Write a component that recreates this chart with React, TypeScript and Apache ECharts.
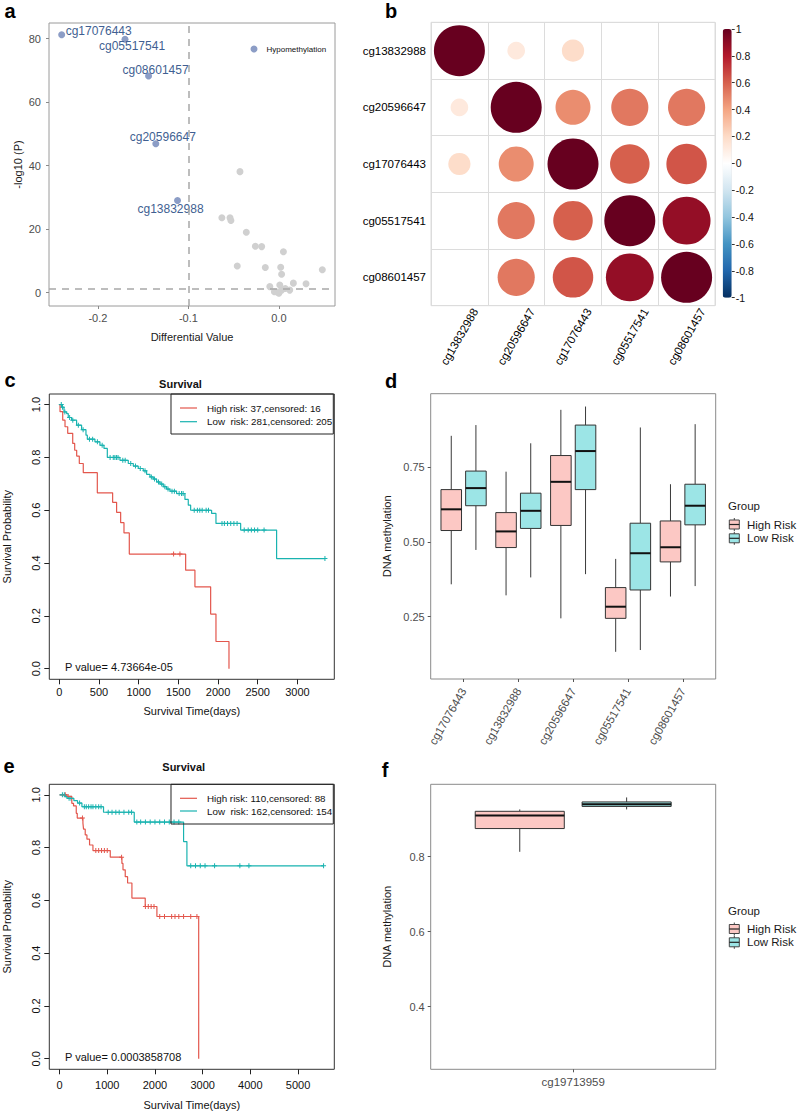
import React, { useEffect, useRef } from "react";
import * as echarts from "echarts";

const FONT = "'Liberation Sans', Arial, Helvetica, sans-serif";

// ---------------- Panel a : volcano ----------------
const volcanoGrayX = [-0.043, -0.063, -0.054, -0.053, -0.036, -0.026, -0.019, 0.005, -0.046, -0.015, 0.002, 0.003, 0.048, 0.016, 0.030, -0.010, 0.001, 0.012, -0.005, 0.0, -0.002, 0.003, 0.007];
const volcanoGrayY = [38.1, 23.6, 23.6, 22.7, 19.0, 14.6, 14.5, 12.9, 8.4, 7.9, 8.0, 5.8, 7.2, 3.0, 2.8, 1.9, 2.4, 0.8, 0.3, -0.2, 0.2, 0.8, 1.3];
const hypoNames = ["cg17076443", "cg05517541", "cg08601457", "cg20596647", "cg13832988"];
const hypoX = [-0.240, -0.170, -0.144, -0.136, -0.112];
const hypoY = [81.2, 79.8, 68.2, 46.9, 29.0];
const volcanoXTicks = [-0.2, -0.1, 0.0];
const volcanoYTicks = [0, 20, 40, 60, 80];
const diffCutoff = -0.1;
const pCutoff = 1.3;

// ---------------- Panel b : correlation ----------------
const corrGenes = ["cg13832988", "cg20596647", "cg17076443", "cg05517541", "cg08601457"];
const corrMatrix = [
  [1, 0.12, 0.19, 0, 0],
  [0.12, 1, 0.47, 0.53, 0.53],
  [0.19, 0.47, 1, 0.6, 0.63],
  [0, 0.53, 0.6, 1, 0.88],
  [0, 0.53, 0.63, 0.88, 1],
];

// ---------------- Panel c : survival (training) ----------------
const cHighTime = [0, 9, 43, 72, 106, 169, 194, 219, 252, 302, 479, 672, 722, 773, 815, 882, 1592, 1709, 1907, 1974, 2138];
const cHighSurv = [1, 0.973, 0.941, 0.916, 0.891, 0.853, 0.827, 0.805, 0.777, 0.742, 0.666, 0.63, 0.592, 0.553, 0.514, 0.434, 0.373, 0.31, 0.207, 0.103, 0];
const cLowTime = [0, 30, 59, 92, 113, 155, 218, 281, 336, 353, 449, 512, 563, 605, 764, 869, 932, 995, 1058, 1100, 1142, 1184, 1226, 1268, 1310, 1352, 1394, 1478, 1583, 1625, 1655, 1919, 1974, 2285, 2738, 3347];
const cLowSurv = [1, 0.99, 0.972, 0.966, 0.951, 0.941, 0.922, 0.905, 0.884, 0.869, 0.859, 0.846, 0.834, 0.8, 0.789, 0.777, 0.767, 0.758, 0.749, 0.736, 0.726, 0.718, 0.707, 0.699, 0.689, 0.68, 0.672, 0.663, 0.641, 0.619, 0.6, 0.588, 0.55, 0.525, 0.417, 0.417];
const cHighCensor = [1440, 1520];
const cLowCensor = [25, 40, 70, 130, 170, 240, 300, 380, 420, 480, 540, 640, 680, 700, 720, 740, 800, 830, 900, 960, 1020, 1080, 1160, 1200, 1250, 1290, 1330, 1370, 1420, 1450, 1510, 1540, 1560, 1700, 1740, 1770, 1800, 1850, 1880, 2050, 2080, 2120, 2160, 2200, 2240, 2330, 2380, 2420, 2460, 2500, 2580, 3347];
const cTimeTicks = [0, 500, 1000, 1500, 2000, 2500, 3000];
const survTicks = [0, 0.2, 0.4, 0.6, 0.8, 1.0];
const cLegend = ["High risk: 37,censored: 16", "Low  risk: 281,censored: 205"];
const cPValue = "P value= 4.73664e-05";

// ---------------- Panel d : methylation boxplots ----------------
const dGenes = ["cg17076443", "cg13832988", "cg20596647", "cg05517541", "cg08601457"];
// [lower whisker, Q1, median, Q3, upper whisker]
const dHighBox = [
  [0.358, 0.538, 0.609, 0.675, 0.855],
  [0.321, 0.481, 0.535, 0.598, 0.735],
  [0.244, 0.555, 0.701, 0.789, 0.942],
  [0.132, 0.244, 0.283, 0.347, 0.443],
  [0.317, 0.433, 0.482, 0.57, 0.693],
];
const dLowBox = [
  [0.473, 0.621, 0.68, 0.737, 0.891],
  [0.381, 0.545, 0.604, 0.663, 0.83],
  [0.392, 0.675, 0.804, 0.891, 0.953],
  [0.138, 0.339, 0.462, 0.5625, 0.883],
  [0.352, 0.557, 0.621, 0.693, 0.894],
];
const dYTicks = [0.25, 0.5, 0.75];

// ---------------- Panel e : survival (validation) ----------------
const eHighTime = [0, 153, 257, 293, 350, 371, 490, 503, 538, 574, 629, 700, 1063, 1307, 1330, 1377, 1426, 1517, 1796, 2041, 2917];
const eHighSurv = [1, 0.994, 0.968, 0.958, 0.93, 0.912, 0.893, 0.87, 0.848, 0.832, 0.81, 0.789, 0.764, 0.74, 0.716, 0.69, 0.666, 0.609, 0.577, 0.539, 0];
const eLowTime = [0, 118, 155, 300, 377, 469, 922, 1566, 2600, 2670, 5535];
const eLowSurv = [1, 0.993, 0.987, 0.978, 0.969, 0.955, 0.934, 0.897, 0.823, 0.731, 0.731];
const eHighCensor = [120, 180, 480, 760, 820, 880, 940, 1000, 1300, 1800, 1860, 1920, 1980, 2100, 2200, 2350, 2420, 2500, 2600, 2750, 2880];
const eLowCensor = [60, 100, 200, 240, 420, 520, 560, 610, 660, 700, 760, 820, 870, 1020, 1100, 1180, 1250, 1350, 1450, 1510, 1620, 1700, 1800, 1900, 2000, 2100, 2200, 2300, 2400, 2500, 2750, 2850, 2950, 3050, 3250, 3780, 3970, 5535];
const eTimeTicks = [0, 1000, 2000, 3000, 4000, 5000];
const eLegend = ["High risk: 110,censored: 88", "Low  risk: 162,censored: 154"];
const ePValue = "P value= 0.0003858708";

// ---------------- Panel f ----------------
const fGenes = ["cg19713959"];
const fHighBox = [[0.813, 0.875, 0.91, 0.921, 0.926]];
const fLowBox = [[0.926, 0.934, 0.94, 0.946, 0.958]];
const fYTicks = [0.4, 0.6, 0.8];

const groupNames = ["High Risk", "Low Risk"];

// ---------------- styles ----------------
const RED = "#E3574D";
const TEAL = "#19B3B0";
const PINK = "#FCC8C4";
const CYAN = "#9CE5E6";
const RDBU = ["#053061", "#2166AC", "#4393C3", "#92C5DE", "#D1E5F0", "#FFFFFF", "#FDDBC7", "#F4A582", "#D6604D", "#B2182B", "#67001F"];
const PLUS = "path://M4,0H6V10H4Z M0,4H10V6H0Z";
const DODGE = 0.225;
const HALF = 0.1875;

function stepAt(times: number[], surv: number[], t: number) {
  let v = surv[0];
  for (let i = 0; i < times.length; i++) {
    if (times[i] <= t) v = surv[i];
  }
  return v;
}

function boxData(high: number[][], low: number[][]) {
  const out: number[][] = [];
  high.forEach((b, i) => out.push([i + 1, b[0], b[1], b[2], b[3], b[4], 0]));
  low.forEach((b, i) => out.push([i + 1, b[0], b[1], b[2], b[3], b[4], 1]));
  return out;
}

function renderBox(params: any, api: any) {
  const x = api.value(0);
  const grp = api.value(6);
  const xc = x + (grp === 0 ? -DODGE : DODGE);
  const pl = api.coord([xc - HALF, api.value(4)]);
  const pr = api.coord([xc + HALF, api.value(2)]);
  const pm = api.coord([xc, api.value(3)]);
  const yLow = api.coord([xc, api.value(1)])[1];
  const yHigh = api.coord([xc, api.value(5)])[1];
  const fill = grp === 0 ? PINK : CYAN;
  return {
    type: "group",
    children: [
      { type: "line", shape: { x1: pm[0], y1: yHigh, x2: pm[0], y2: pl[1] }, style: { stroke: "#3a3a3a", lineWidth: 1 } },
      { type: "line", shape: { x1: pm[0], y1: pr[1], x2: pm[0], y2: yLow }, style: { stroke: "#3a3a3a", lineWidth: 1 } },
      { type: "rect", shape: { x: pl[0], y: pl[1], width: pr[0] - pl[0], height: pr[1] - pl[1] }, style: { fill, stroke: "#333", lineWidth: 1 } },
      { type: "line", shape: { x1: pl[0], y1: pm[1], x2: pr[0], y2: pm[1] }, style: { stroke: "#111", lineWidth: 2 } },
    ],
  };
}

function txt(text: string, x: number, y: number, size: number, opts: any = {}) {
  return {
    type: "text",
    x,
    y,
    z: 100,
    style: {
      text,
      fill: opts.fill || "#111",
      fontSize: size,
      fontFamily: FONT,
      fontWeight: opts.bold ? "bold" : "normal",
      align: opts.align || "left",
      verticalAlign: "middle",
    },
  };
}

function kmLegend(x0: number, y0: number, x1: number, y1: number, rows: number[], labels: string[]) {
  return [
    { type: "rect", z: 100, shape: { x: x0, y: y0, width: x1 - x0, height: y1 - y0 }, style: { fill: "rgba(0,0,0,0)", stroke: "#222", lineWidth: 1 } },
    { type: "line", z: 100, shape: { x1: 180, y1: rows[0], x2: 197, y2: rows[0] }, style: { stroke: RED, lineWidth: 1.2 } },
    { type: "line", z: 100, shape: { x1: 180, y1: rows[1], x2: 197, y2: rows[1] }, style: { stroke: TEAL, lineWidth: 1.2 } },
    txt(labels[0], 207, rows[0], 9.8),
    txt(labels[1], 207, rows[1], 9.8),
  ];
}

function boxKey(cy: number, fill: string) {
  const cx = 734.3;
  return [
    { type: "line", z: 100, shape: { x1: cx, y1: cy - 6.5, x2: cx, y2: cy + 6.5 }, style: { stroke: "#444", lineWidth: 1 } },
    { type: "rect", z: 101, shape: { x: cx - 5, y: cy - 4.5, width: 10, height: 9 }, style: { fill, stroke: "#444", lineWidth: 1 } },
    { type: "line", z: 102, shape: { x1: cx - 5, y1: cy, x2: cx + 5, y2: cy }, style: { stroke: "#222", lineWidth: 1.2 } },
  ];
}

function groupLegend(yTitle: number, yHigh: number, yLow: number) {
  return [
    txt("Group", 728, yTitle, 11.5, { fill: "#1a1a1a" }),
    ...boxKey(yHigh, PINK),
    ...boxKey(yLow, CYAN),
    txt(groupNames[0], 747, yHigh, 11.5, { fill: "#1a1a1a" }),
    txt(groupNames[1], 747, yLow, 11.5, { fill: "#1a1a1a" }),
  ];
}

const noLine = { show: false, onZero: false };

function kmXAxis(grid: number, min: number, max: number, ticks: number[], margin: number, nameGap: number) {
  return {
    gridIndex: grid, type: "value", min, max,
    splitLine: { show: false }, axisLine: noLine,
    axisTick: { show: true, length: 5, lineStyle: { color: "#222" }, customValues: ticks },
    axisLabel: { customValues: ticks, color: "#111", fontSize: 11, margin, formatter: (v: number) => String(v) },
    name: "Survival Time(days)", nameLocation: "middle", nameGap,
    nameTextStyle: { color: "#111", fontSize: 11 },
  };
}

function kmYAxis(grid: number) {
  return {
    gridIndex: grid, type: "value", min: -0.04, max: 1.04,
    splitLine: { show: false }, axisLine: noLine,
    axisTick: { show: true, length: 5, lineStyle: { color: "#222" }, customValues: survTicks },
    axisLabel: { customValues: survTicks, rotate: 90, color: "#111", fontSize: 11, margin: 8, formatter: (v: number) => v.toFixed(1) },
    name: "Survival Probability", nameLocation: "middle", nameGap: 37,
    nameTextStyle: { color: "#111", fontSize: 11 },
  };
}

function kmSeries(grid: number, times: number[], surv: number[], censor: number[], color: string) {
  return [
    {
      type: "line", xAxisIndex: grid, yAxisIndex: grid, step: "end", symbol: "none", showSymbol: false,
      lineStyle: { color, width: 1.2 }, itemStyle: { color },
      data: times.map((t, i) => [t, surv[i]]),
    },
    {
      type: "scatter", xAxisIndex: grid, yAxisIndex: grid, symbol: PLUS, symbolSize: 5,
      itemStyle: { color, opacity: 1 },
      data: censor.map((t) => [t, stepAt(times, surv, t)]),
    },
  ];
}

function boxXAxis(grid: number, genes: string[], rotate: number, margin: number) {
  const ticks = genes.map((_, i) => i + 1);
  return {
    gridIndex: grid, type: "value", min: 0.4, max: genes.length + 0.6,
    splitLine: { show: false }, axisLine: noLine,
    axisTick: { show: true, length: 3, lineStyle: { color: "#555" }, customValues: ticks },
    axisLabel: {
      customValues: ticks, rotate, margin, color: "#4d4d4d", fontSize: 11.5,
      formatter: (v: number) => genes[Math.round(v) - 1] || "",
    },
  };
}

function boxYAxis(grid: number, min: number, max: number, ticks: number[], digits: number) {
  return {
    gridIndex: grid, type: "value", min, max,
    splitLine: { show: false }, axisLine: noLine,
    axisTick: { show: true, length: 3, lineStyle: { color: "#555" }, customValues: ticks },
    axisLabel: { customValues: ticks, color: "#4d4d4d", fontSize: 11, margin: 6, formatter: (v: number) => v.toFixed(digits) },
    name: "DNA methylation", nameLocation: "middle", nameGap: 38,
    nameTextStyle: { color: "#1a1a1a", fontSize: 11 },
  };
}

export default function App() {
  const ref = useRef<HTMLDivElement>(null);

  useEffect(() => {
    document.body.style.margin = "0";
    if (!ref.current) return;
    const chart = echarts.init(ref.current, undefined, { renderer: "svg" });

    const hypoOffsets = [[37, -4], [7, 7], [7, -6], [7, -7], [-7, 8]];

    const corrData: any[] = [];
    corrMatrix.forEach((row, r) => row.forEach((v, c) => corrData.push([c, r, v])));

    const option: any = {
      animation: false,
      textStyle: { fontFamily: FONT },
      grid: [
        { left: 49, top: 23, width: 286, height: 283, show: true, borderColor: "#9a9a9a", borderWidth: 1 },
        { left: 431, top: 22.3, width: 284, height: 283.4, show: true, borderColor: "#dcdcdc", borderWidth: 1 },
        { left: 722.7, top: 29, width: 9, height: 268.7 },
        { left: 49.3, top: 394, width: 285, height: 285.3, show: true, borderColor: "#333", borderWidth: 1 },
        { left: 430.7, top: 393.7, width: 285, height: 285.3, show: true, borderColor: "#8a8a8a", borderWidth: 1 },
        { left: 49.3, top: 784.3, width: 285, height: 285, show: true, borderColor: "#333", borderWidth: 1 },
        { left: 430.7, top: 784.3, width: 285, height: 285, show: true, borderColor: "#8a8a8a", borderWidth: 1 },
      ],
      xAxis: [
        {
          gridIndex: 0, type: "value", min: -0.254, max: 0.062,
          splitLine: { show: false }, axisLine: noLine,
          axisTick: { show: true, length: 3, lineStyle: { color: "#8a8a8a" }, customValues: volcanoXTicks },
          axisLabel: { customValues: volcanoXTicks, color: "#4d4d4d", fontSize: 11, margin: 6, formatter: (v: number) => v.toFixed(1) },
          name: "Differential Value", nameLocation: "middle", nameGap: 25,
          nameTextStyle: { color: "#1a1a1a", fontSize: 11 },
        },
        {
          gridIndex: 1, type: "category", data: corrGenes,
          axisLine: noLine, axisTick: { show: false },
          axisLabel: { interval: 0, rotate: 60, align: "center", verticalAlign: "middle", margin: 31, fontSize: 11.5, color: "#000" },
          splitLine: { show: true, interval: 0, lineStyle: { color: "#dcdcdc" } },
        },
        { gridIndex: 2, type: "value", min: 0, max: 1, show: false },
        kmXAxis(3, -126, 3465, cTimeTicks, 7, 26),
        boxXAxis(4, dGenes, 60, 10),
        kmXAxis(5, -215, 5760, eTimeTicks, 10, 30),
        boxXAxis(6, fGenes, 0, 7),
      ],
      yAxis: [
        {
          gridIndex: 0, type: "value", min: -4.2, max: 84.9,
          splitLine: { show: false }, axisLine: noLine,
          axisTick: { show: true, length: 3, lineStyle: { color: "#8a8a8a" }, customValues: volcanoYTicks },
          axisLabel: { customValues: volcanoYTicks, color: "#4d4d4d", fontSize: 11, margin: 8, formatter: (v: number) => String(v) },
          name: "-log10 (P)", nameLocation: "middle", nameGap: 26,
          nameTextStyle: { color: "#1a1a1a", fontSize: 11 },
        },
        {
          gridIndex: 1, type: "category", data: corrGenes, inverse: true,
          axisLine: noLine, axisTick: { show: false },
          axisLabel: { interval: 0, margin: 5, fontSize: 11.5, color: "#000" },
          splitLine: { show: true, interval: 0, lineStyle: { color: "#dcdcdc" } },
        },
        {
          gridIndex: 2, type: "value", min: -1, max: 1, interval: 0.2, position: "right",
          splitLine: { show: false }, axisLine: noLine,
          axisTick: { show: true, length: 3, lineStyle: { color: "#333" } },
          axisLabel: { color: "#111", fontSize: 10.5, margin: 4, formatter: (v: number) => String(Math.round(v * 10) / 10) },
        },
        kmYAxis(3),
        boxYAxis(4, 0.041, 0.996, dYTicks, 2),
        kmYAxis(5),
        boxYAxis(6, 0.233, 0.993, fYTicks, 1),
      ],
      visualMap: [
        {
          type: "continuous", min: -1, max: 1, seriesIndex: 2, dimension: 2,
          inRange: { color: RDBU }, calculable: false, orient: "vertical",
          left: 722.7, top: 29, itemWidth: 9, itemHeight: 268.7, padding: 0,
          hoverLink: false,
        },
      ],
      series: [
        {
          type: "scatter", xAxisIndex: 0, yAxisIndex: 0, symbolSize: 7,
          itemStyle: { color: "#d0d0d0", opacity: 1 },
          data: volcanoGrayX.map((x, i) => [x, volcanoGrayY[i]]),
          markLine: {
            silent: true, symbol: "none", label: { show: false },
            lineStyle: { color: "#a8a8a8", type: [7, 6], width: 1.5 },
            data: [{ xAxis: diffCutoff }, { yAxis: pCutoff }],
          },
        },
        {
          type: "scatter", xAxisIndex: 0, yAxisIndex: 0, symbolSize: 7,
          itemStyle: { color: "#8c9dc6", opacity: 1 },
          data: hypoNames.map((n, i) => ({
            name: n,
            value: [hypoX[i], hypoY[i]],
            label: { offset: hypoOffsets[i] },
          })),
          label: { show: true, position: "inside", formatter: "{b}", color: "#3f5f92", fontSize: 12 },
        },
        {
          type: "scatter", xAxisIndex: 1, yAxisIndex: 1,
          symbolSize: (v: number[]) => Math.sqrt(Math.abs(v[2])) * 51,
          itemStyle: { opacity: 1 },
          data: corrData,
        },
        { type: "scatter", xAxisIndex: 2, yAxisIndex: 2, data: [] },
        ...kmSeries(3, cHighTime, cHighSurv, cHighCensor, RED),
        ...kmSeries(3, cLowTime, cLowSurv, cLowCensor, TEAL),
        {
          type: "custom", xAxisIndex: 4, yAxisIndex: 4, renderItem: renderBox,
          encode: { x: 0, y: [1, 2, 3, 4, 5] },
          data: boxData(dHighBox, dLowBox),
        },
        ...kmSeries(5, eHighTime, eHighSurv, eHighCensor, RED),
        ...kmSeries(5, eLowTime, eLowSurv, eLowCensor, TEAL),
        {
          type: "custom", xAxisIndex: 6, yAxisIndex: 6, renderItem: renderBox,
          encode: { x: 0, y: [1, 2, 3, 4, 5] },
          data: boxData(fHighBox, fLowBox),
        },
      ],
      graphic: [
        txt("a", 10, 11, 20, { bold: true, align: "center", fill: "#000" }),
        txt("b", 391, 11, 20, { bold: true, align: "center", fill: "#000" }),
        txt("c", 10, 380, 20, { bold: true, align: "center", fill: "#000" }),
        txt("d", 391, 381, 20, { bold: true, align: "center", fill: "#000" }),
        txt("e", 9, 766, 20, { bold: true, align: "center", fill: "#000" }),
        txt("f", 385, 769.5, 20, { bold: true, align: "center", fill: "#000" }),
        { type: "circle", z: 100, shape: { cx: 254, cy: 49, r: 3.5 }, style: { fill: "#8c9dc6" } },
        txt("Hypomethylation", 266.5, 49, 8, { fill: "#111" }),
        txt("Survival", 180.5, 384, 11, { bold: true, align: "center" }),
        txt("Survival", 183.7, 767.3, 11, { bold: true, align: "center" }),
        ...kmLegend(171, 394, 333.3, 434, [408, 421.7], cLegend),
        ...kmLegend(171, 784.3, 333.3, 824, [798.3, 811], eLegend),
        txt(cPValue, 65, 666.7, 11),
        txt(ePValue, 65, 1057, 11),
        ...groupLegend(506, 524.5, 538.3),
        ...groupLegend(910.7, 929, 942.3),
      ],
    };

    chart.setOption(option);
    return () => chart.dispose();
  }, []);

  return <div ref={ref} style={{ width: 800, height: 1113 }} />;
}
